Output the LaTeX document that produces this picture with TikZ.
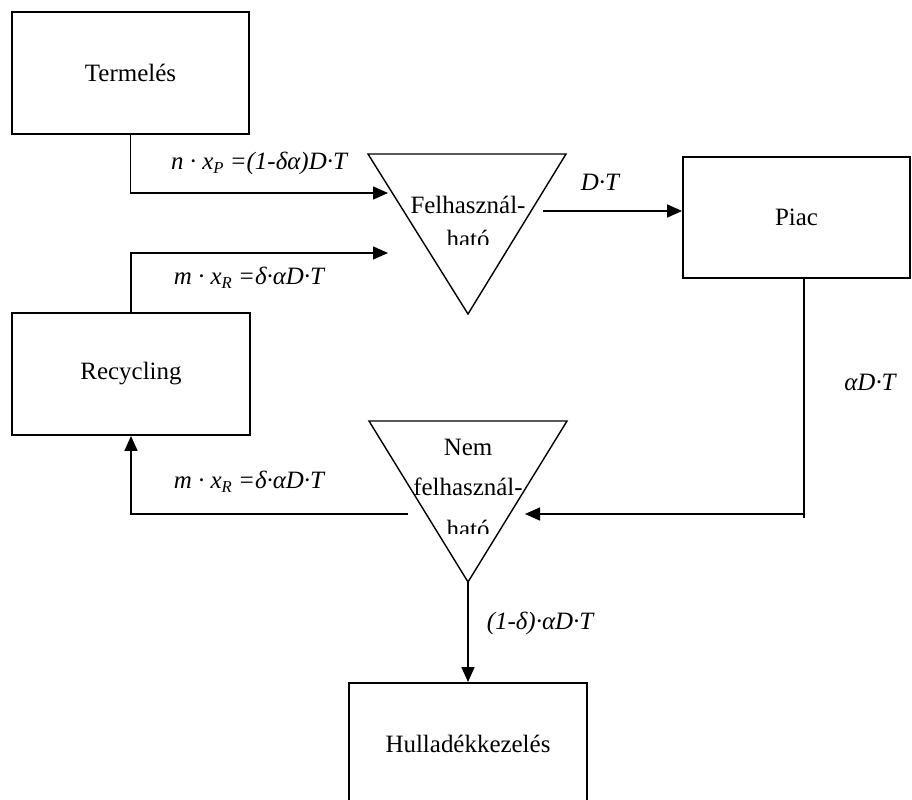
\documentclass[tikz,border=0pt]{standalone}
\usepackage{fontspec}
\setmainfont{Liberation Serif}
\usetikzlibrary{arrows.meta}
\newcommand{\lowix}[1]{\raisebox{-0.35ex}{\fontsize{9.5}{10}\selectfont #1}}
\begin{document}
\begin{tikzpicture}
  [x=0.02cm,y=-0.02cm,font=\fontsize{14.2}{20}\selectfont,
   every node/.style={inner sep=0pt}]
  \tikzstyle{box} = [draw,line width=1.1pt,rectangle]
  \tikzstyle{tri} = [draw,line width=0.8pt,line join=miter]
  \tikzstyle{flow} = [line width=0.9pt,-{Triangle[length=0.3cm,width=0.26cm]}]
  \tikzstyle{weight} = [font=\fontsize{14.2}{20}\selectfont\itshape]
  \useasboundingbox (0,0) rectangle (912,800);
  % boxes
  \node[box,minimum width=4.74cm,minimum height=2.44cm] (termeles) at (130.5,73) {Termelés};
  \node[box,minimum width=4.54cm,minimum height=2.42cm] (piac) at (796.5,217.5) {Piac};
  \node[box,minimum width=4.76cm,minimum height=2.44cm] (recycling) at (131,374) {Recycling};
  \node[box,minimum width=4.76cm,minimum height=2.44cm] (hull) at (468,744) {Hulladékkezelés};
  % upper triangle
  \coordinate (f1) at (368,154);
  \coordinate (f2) at (566,154);
  \coordinate (f3) at (468,314);
  \draw[tri] (f1) -- (f2) -- (f3) -- cycle;
  \node[anchor=base] (felh) at (468,214) {Felhasznál-};
  \begin{scope}
    \clip (368,150) rectangle (566,245);
    \node[anchor=base] (hato1) at (468,248) {ható};
  \end{scope}
  % lower triangle
  \coordinate (g1) at (369,421);
  \coordinate (g2) at (567,421);
  \coordinate (g3) at (468,582);
  \draw[tri] (g1) -- (g2) -- (g3) -- cycle;
  \node[anchor=base] (nem) at (468,455) {Nem};
  \node[anchor=base] (nfelh) at (468,495) {felhasznál-};
  \begin{scope}
    \clip (369,420) rectangle (567,533);
    \node[anchor=base] (hato2) at (468,537) {ható};
  \end{scope}
  % connector ends
  \coordinate (in1) at (388,193);
  \coordinate (in2) at (388,253);
  \coordinate (out1) at (543,211);
  \coordinate (p1) at (804,278);
  \coordinate (p2) at (804,518);
  \coordinate (p3) at (804,514);
  \coordinate (in3) at (525,514);
  \coordinate (out2) at (408,514);
  % flows
  \draw[flow] (termeles.south) |- (in1);
  \draw[flow] (recycling.north) |- (in2);
  \draw[flow] (out1) -- (out1 -| piac.west);
  \draw[line width=0.9pt] (p1) -- (p2);
  \draw[flow] (p3) -- (in3);
  \draw[flow] (out2) -| (recycling.south);
  \draw[flow] (g3) -- (hull.north);
  % labels
  \node[weight] (w1) at (259,163) {n · x\lowix{P} =(1-δα)D·T};
  \node[weight] (w2) at (249,278) {m · x\lowix{R} =δ·αD·T};
  \node[weight] (w3) at (249,482) {m · x\lowix{R} =δ·αD·T};
  \node[weight] (w4) at (600,182) {D·T};
  \node[weight] (w5) at (870,382) {αD·T};
  \node[weight] (w6) at (540,623) {(1-δ)·αD·T};
\end{tikzpicture}
\end{document}
